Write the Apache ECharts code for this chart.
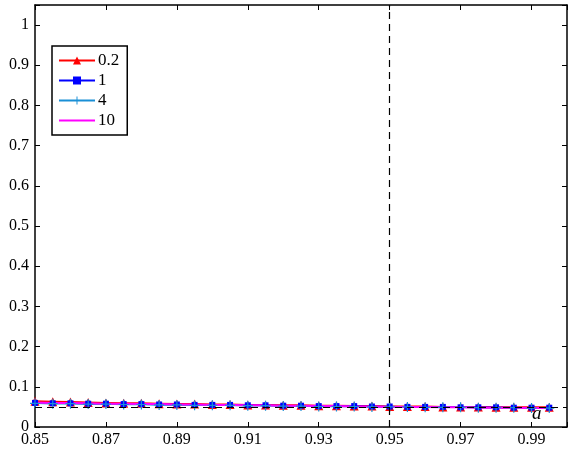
<!DOCTYPE html>
<html>
<head>
<meta charset="utf-8">
<script src="https://cdn.jsdelivr.net/npm/echarts@6/dist/echarts.min.js"></script>
<style>
  html, body { margin: 0; padding: 0; background: #fff; }
  #chart { width: 570px; height: 456px; }
</style>
</head>
<body>
<div id="chart"></div>
<script>
// Sample points along the a-axis
var alphas = [0.85, 0.855, 0.86, 0.865, 0.87, 0.875, 0.88, 0.885, 0.89, 0.895,
              0.90, 0.905, 0.91, 0.915, 0.92, 0.925, 0.93, 0.935, 0.94, 0.945,
              0.95, 0.955, 0.96, 0.965, 0.97, 0.975, 0.98, 0.985, 0.99, 0.995];

var seriesNames = ['0.2', '1', '4', '10'];

var vals02 = [0.064, 0.063, 0.062, 0.061, 0.060, 0.059, 0.059, 0.058, 0.057, 0.057,
              0.056, 0.056, 0.055, 0.055, 0.054, 0.054, 0.053, 0.053, 0.052, 0.052,
              0.051, 0.051, 0.051, 0.050, 0.050, 0.050, 0.049, 0.049, 0.049, 0.049];
var vals1  = [0.060, 0.059, 0.059, 0.058, 0.058, 0.057, 0.057, 0.056, 0.056, 0.055,
              0.055, 0.055, 0.054, 0.054, 0.053, 0.053, 0.052, 0.052, 0.052, 0.051,
              0.051, 0.050, 0.050, 0.050, 0.049, 0.049, 0.049, 0.048, 0.048, 0.048];
var vals4  = [0.059, 0.058, 0.058, 0.057, 0.057, 0.056, 0.056, 0.055, 0.055, 0.054,
              0.054, 0.054, 0.053, 0.053, 0.052, 0.052, 0.051, 0.051, 0.051, 0.050,
              0.050, 0.050, 0.049, 0.049, 0.049, 0.048, 0.048, 0.048, 0.047, 0.047];
var vals10 = [0.061, 0.060, 0.060, 0.059, 0.058, 0.058, 0.057, 0.057, 0.056, 0.056,
              0.055, 0.055, 0.054, 0.054, 0.053, 0.053, 0.052, 0.052, 0.051, 0.051,
              0.050, 0.050, 0.050, 0.049, 0.049, 0.048, 0.048, 0.048, 0.047, 0.047];

// Reference levels
var levelY = 0.05;
var levelX = 0.95;
var annotation = { text: 'a', x: 0.9915, y: 0.032 };

function pairs(ys) {
  return alphas.map(function (x, i) { return [x, ys[i]]; });
}

var FONT = 'Liberation Serif';
var plusPath = 'path://M4.4,0h1.2v4.4h4.4v1.2h-4.4v4.4h-1.2v-4.4h-4.4v-1.2h4.4z';
// plain line segment for the marker-less series' legend entry
// (tiny corner specks keep the icon box at 36x10 so the bar stays thin)
var dashIcon = 'path://M0,4h36v2h-36zM0,0h0.01v0.01h-0.01zM35.99,9.99h0.01v0.01h-0.01z';

var chart = echarts.init(document.getElementById('chart'), null, { renderer: 'canvas' });

var axisCommon = {
  axisLine: { show: true, onZero: false, lineStyle: { color: '#000', width: 1.5 } },
  axisTick: { show: true, inside: true, length: 5, lineStyle: { color: '#000', width: 1 } },
  splitLine: { show: false }
};

chart.setOption({
  animation: false,
  backgroundColor: '#fff',
  grid: { left: 35, right: -2, top: 5, bottom: 29, containLabel: false },
  legend: {
    orient: 'vertical',
    left: 52, top: 46,
    padding: [6, 8, 6, 6],
    itemWidth: 36, itemHeight: 10, itemGap: 3,
    backgroundColor: '#fff',
    borderColor: '#000', borderWidth: 1.5, borderRadius: 0,
    textStyle: { fontFamily: FONT, fontSize: 17, color: '#000', padding: [0, 0, 0, -2] },
    data: [
      { name: seriesNames[0] },
      { name: seriesNames[1] },
      { name: seriesNames[2] },
      { name: seriesNames[3], icon: dashIcon }
    ]
  },
  xAxis: [
    Object.assign({
      type: 'value', position: 'bottom', min: 0.85, max: 1.0, interval: 0.02,
      axisLabel: {
        fontFamily: FONT, fontSize: 16, color: '#000', margin: 5,
        formatter: function (v) { return Math.abs(v - 1) < 1e-6 ? '' : v.toFixed(2); }
      }
    }, axisCommon),
    Object.assign({
      type: 'value', position: 'top', min: 0.85, max: 1.0, interval: 0.02,
      axisLabel: { show: false }
    }, axisCommon)
  ],
  yAxis: [
    Object.assign({
      type: 'value', position: 'left', min: 0, max: 1.05, interval: 0.1,
      axisLabel: {
        fontFamily: FONT, fontSize: 16, color: '#000', margin: 6,
        formatter: function (v) {
          if (Math.abs(v - 1.05) < 1e-6) return '';
          var r = Math.round(v * 10) / 10;
          return r === 0 ? '0' : (r === 1 ? '1' : r.toFixed(1));
        }
      }
    }, axisCommon),
    Object.assign({
      type: 'value', position: 'right', min: 0, max: 1.05, interval: 0.1,
      axisLabel: { show: false }
    }, axisCommon)
  ],
  series: [
    {
      name: '0.2', type: 'line', data: pairs(vals02),
      symbol: 'triangle', symbolSize: 9,
      lineStyle: { color: '#ff0000', width: 2 },
      itemStyle: { color: '#ff0000' },
      markLine: {
        silent: true, symbol: 'none', label: { show: false },
        lineStyle: { color: '#000', type: [7, 5], width: 1.2 },
        data: [{ yAxis: levelY }, { xAxis: levelX }]
      },
      markPoint: {
        silent: true, symbol: 'circle', symbolSize: 0,
        label: {
          show: true, position: 'inside', formatter: annotation.text,
          fontFamily: FONT, fontStyle: 'italic', fontSize: 19, color: '#000'
        },
        data: [{ coord: [annotation.x, annotation.y] }]
      }
    },
    {
      name: '1', type: 'line', data: pairs(vals1),
      symbol: 'rect', symbolSize: 6,
      lineStyle: { color: '#0000ff', width: 1.5 },
      itemStyle: { color: '#0000ff' }
    },
    {
      name: '4', type: 'line', data: pairs(vals4),
      symbol: plusPath, symbolSize: 10,
      lineStyle: { color: '#1a8fd6', width: 1.5 },
      itemStyle: { color: '#1a8fd6' }
    },
    {
      name: '10', type: 'line', data: pairs(vals10),
      symbol: 'none', showSymbol: false,
      lineStyle: { color: '#ff00ff', width: 2 },
      itemStyle: { color: '#ff00ff' }
    }
  ]
});
</script>
</body>
</html>
